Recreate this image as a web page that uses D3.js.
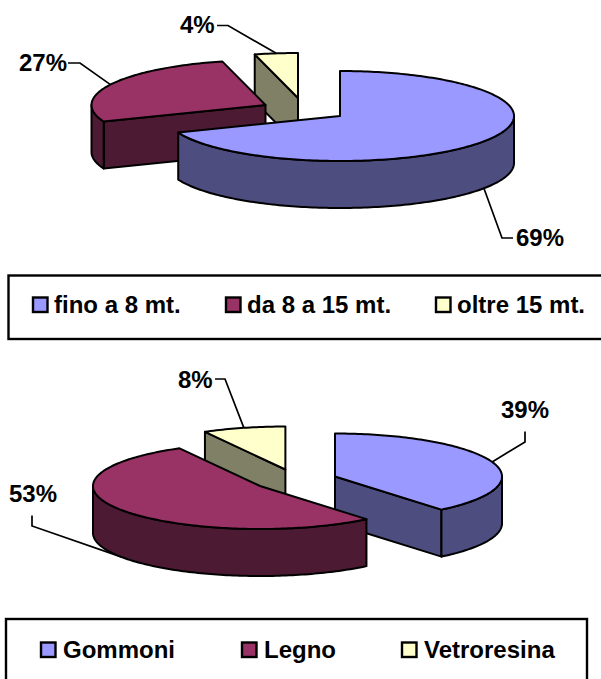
<!DOCTYPE html>
<html>
<head>
<meta charset="utf-8">
<script src="https://d3js.org/d3.v7.min.js"></script>
<style>
  html, body { margin: 0; padding: 0; background: #fff; overflow: hidden; }
  svg { display: block; }
  text { font-family: "Liberation Sans", Arial, sans-serif; font-weight: bold; fill: #000; }
</style>
</head>
<body>
<div id="chart"></div>
<script>
const canvWidth = 601, canvHeight = 679;

// top chart: boat length
const lengthCategories = ["fino a 8 mt.", "da 8 a 15 mt.", "oltre 15 mt."];
const lengthValues = [69, 27, 4];

// bottom chart: hull type
const hullCategories = ["Gommoni", "Legno", "Vetroresina"];
const hullValues = [39, 53, 8];

const topColors = ["#9999ff", "#993366", "#ffffcc"];
const sideColors = ["#4d4d80", "#4d1a33", "#808066"];

const svg = d3.select("#chart").append("svg")
    .attr("width", canvWidth)
    .attr("height", canvHeight);

const pie = d3.pie().sort(null).value(d => d);

function drawPie(values, opts) {
    const slices = pie(values);
    const g = svg.append("g");

    // angle (clockwise from 12 o'clock) to a point on the tilted ellipse
    const point = (i, a, drop = 0) => {
        const c = opts.centers[i];
        return [c[0] + opts.rx * Math.sin(a), c[1] - opts.ry * Math.cos(a) + drop];
    };
    const arcPoints = (i, a0, a1, drop = 0) => {
        const n = Math.max(2, Math.ceil(Math.abs(a1 - a0) / 0.02));
        return d3.range(n + 1).map(k => point(i, a0 + (a1 - a0) * k / n, drop));
    };
    const line = d3.line();
    const stroke = sel => sel
        .attr("stroke", "#000")
        .attr("stroke-width", 2)
        .attr("stroke-linejoin", "round");

    // leader lines and labels go first, the pie covers their ends
    slices.forEach((s, i) => {
        const mid = (s.startAngle + s.endAngle) / 2;
        const lead = opts.leaders[i];
        const anchor = point(i, mid, Math.cos(mid) < 0 ? opts.depth : 0);
        g.append("path")
            .attr("d", line([anchor, lead.elbow, lead.end]))
            .attr("fill", "none")
            .attr("stroke", "#000")
            .attr("stroke-width", 1.7);
        g.append("text")
            .attr("x", lead.label[0])
            .attr("y", lead.label[1])
            .attr("font-size", 24)
            .text(s.value + "%");
    });

    opts.order.forEach(i => {
        const s = slices[i];
        const a0 = s.startAngle, a1 = s.endAngle;
        const c = opts.centers[i];
        const sg = g.append("g");

        // a cut face only shows when it looks down towards the viewer
        const faces = [];
        if (Math.sin(a0) < -1e-6) faces.push(a0);
        if (Math.sin(a1) > 1e-6) faces.push(a1);
        faces.forEach(a => {
            const p = point(i, a);
            sg.append("path")
                .attr("d", line([c, p, [p[0], p[1] + opts.depth], [c[0], c[1] + opts.depth]]) + "Z")
                .attr("fill", sideColors[i])
                .call(stroke);
        });

        // outer wall, only the front half of the rim
        const from = Math.max(a0, Math.PI / 2), to = Math.min(a1, 3 * Math.PI / 2);
        if (to > from) {
            const upper = arcPoints(i, from, to);
            const lower = arcPoints(i, to, from, opts.depth);
            sg.append("path")
                .attr("d", line(upper.concat(lower)) + "Z")
                .attr("fill", sideColors[i])
                .call(stroke);
        }

        // top surface
        sg.append("path")
            .attr("d", line([c].concat(arcPoints(i, a0, a1))) + "Z")
            .attr("fill", topColors[i])
            .call(stroke);
    });
}

function drawLegend(categories, box, swatchX, textX, baseline) {
    const g = svg.append("g");
    g.append("rect")
        .attr("x", box.x).attr("y", box.y)
        .attr("width", box.w).attr("height", box.h)
        .attr("fill", "#fff")
        .attr("stroke", "#000")
        .attr("stroke-width", 2.4);
    categories.forEach((name, i) => {
        g.append("rect")
            .attr("x", swatchX[i]).attr("y", baseline - 15.5)
            .attr("width", 14.5).attr("height", 14.5)
            .attr("fill", topColors[i])
            .attr("stroke", "#000")
            .attr("stroke-width", 2.4);
        g.append("text")
            .attr("x", textX[i]).attr("y", baseline)
            .attr("font-size", 24)
            .text(name);
    });
}

drawPie(lengthValues, {
    rx: 174, ry: 45, depth: 47,
    centers: [[340, 116], [265.5, 105], [298, 98]],
    order: [2, 1, 0],
    leaders: [
        {elbow: [502, 238], end: [513, 238], label: [516, 246]},
        {elbow: [80, 63], end: [68, 63], label: [19, 71]},
        {elbow: [228, 25.5], end: [217, 25.5], label: [180, 33]}
    ]
});
drawLegend(lengthCategories, {x: 8.5, y: 275.5, w: 620, h: 63.5},
    [33, 226, 436], [54, 247, 457], 313);

drawPie(hullValues, {
    rx: 167, ry: 43, depth: 47,
    centers: [[335, 476.5], [260, 486], [285.4, 469.5]],
    order: [2, 0, 1],
    leaders: [
        {elbow: [525, 442], end: [525, 431.5], label: [501, 418]},
        {elbow: [32, 526], end: [32, 515.5], label: [9, 502]},
        {elbow: [225, 379], end: [215, 379], label: [178, 388]}
    ]
});
drawLegend(hullCategories, {x: 6, y: 619, w: 581, h: 100},
    [41, 242, 402], [63, 264, 424], 658);
</script>
</body>
</html>
